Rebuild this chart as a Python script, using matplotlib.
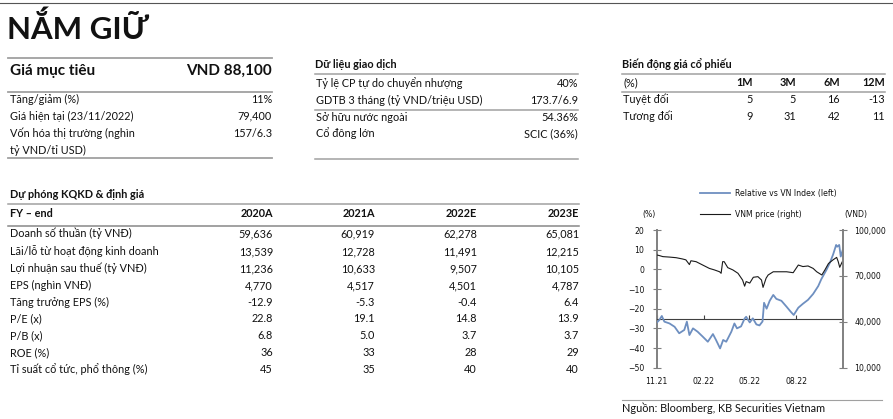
import matplotlib
matplotlib.use("Agg")
import matplotlib.pyplot as plt
import matplotlib.transforms as mtransforms
from matplotlib.lines import Line2D
from matplotlib.ticker import FuncFormatter
import pandas as pd

# ---------------- data ----------------
title = "NẮM GIỮ"
target_label = "Giá mục tiêu"
target_value = "VND 88,100"
summary_labels = ["Tăng/giảm (%)", "Giá hiện tại (23/11/2022)",
                  "Vốn hóa thị trường (nghìn\ntỷ VND/tỉ USD)"]
summary_values = ["11%", "79,400", "157/6.3"]

trading_title = "Dữ liệu giao dịch"
trading_labels = ["Tỷ lệ CP tự do chuyển nhượng", "GDTB 3 tháng (tỷ VND/triệu USD)",
                  "Sở hữu nước ngoài", "Cổ đông lớn"]
trading_values = ["40%", "173.7/6.9", "54.36%", "SCIC (36%)"]

perf_title = "Biến động giá cổ phiếu"
perf_unit = "(%)"
perf_periods = ["1M", "3M", "6M", "12M"]
perf_rows = ["Tuyệt đối", "Tương đối"]
perf_abs = [5, 5, 16, -13]
perf_rel = [9, 31, 42, 11]

fc_title = "Dự phóng KQKD & định giá"
fc_head = "FY – end"
fc_years = ["2020A", "2021A", "2022E", "2023E"]
fc_labels = ["Doanh số thuần (tỷ VNĐ)", "Lãi/lỗ từ hoạt động kinh doanh",
             "Lợi nhuận sau thuế (tỷ VNĐ)", "EPS (nghìn VNĐ)", "Tăng trưởng EPS (%)",
             "P/E (x)", "P/B (x)", "ROE (%)", "Tỉ suất cổ tức, phổ thông (%)"]
fc_2020 = ["59,636", "13,539", "11,236", "4,770", "-12.9", "22.8", "6.8", "36", "45"]
fc_2021 = ["60,919", "12,728", "10,633", "4,517", "-5.3", "19.1", "5.0", "33", "35"]
fc_2022 = ["62,278", "11,491", "9,507", "4,501", "-0.4", "14.8", "3.7", "28", "40"]
fc_2023 = ["65,081", "12,215", "10,105", "4,787", "6.4", "13.9", "3.7", "29", "40"]

source_text = "Nguồn: Bloomberg, KB Securities Vietnam"

# chart data (days since start date)
chart_start = "2021-11-23"
chart_end = "2022-11-23"
tick_dates = ["2021-11-23", "2022-02-23", "2022-05-23", "2022-08-23"]
tick_labels = ["11.21", "02.22", "05.22", "08.22"]
rel_label = "Relative vs VN Index (left)"
price_label = "VNM price (right)"
rel_days = [0, 5, 10, 15, 25, 35, 44, 54, 59, 64, 71, 80, 90, 100, 110, 116, 124, 130,
            136, 146, 152, 157, 165, 172, 175, 182, 188, 195, 201, 207, 210, 215, 221,
            228, 234, 244, 254, 262, 268, 277, 286, 296, 306, 316, 322, 332, 339, 345,
            351, 353, 357, 360, 365]
rel_values = [-27.1, -25.8, -23.7, -26.6, -27.5, -29.2, -32.5, -30.8, -26.6, -33.4, -30.0,
              -31.7, -34.2, -36.8, -32.9, -35.9, -40.2, -35.9, -36.8, -31.7, -27.5, -30.0,
              -29.0, -25.0, -24.1, -27.0, -24.9, -28.0, -28.5, -26.5, -17.0, -20.0, -16.0,
              -13.0, -15.0, -16.0, -19.0, -21.5, -23.2, -19.5, -17.5, -15.5, -12.5, -8.5,
              -5.0, -0.3, 3.5, 7.5, 12.4, 11.5, 12.4, 6.5, 10.8]
price_days = [0, 5, 12, 25, 38, 50, 57, 64, 67, 77, 90, 103, 113, 123, 126, 129, 132, 139,
              149, 159, 168, 172, 175, 182, 189, 198, 205, 208, 214, 218, 228, 241, 254,
              267, 277, 286, 296, 306, 313, 323, 329, 336, 345, 352, 355, 358, 363, 365]
price_values = [83700, 83300, 82600, 82300, 81900, 81100, 80500, 77400, 79900, 79300,
                77100, 74900, 73900, 72700, 71700, 79300, 79300, 75400, 73900, 71700,
                67300, 63300, 66300, 65300, 69100, 69500, 67300, 62500, 68500, 70600,
                72700, 72700, 72700, 72100, 77100, 76100, 76500, 74900, 72700, 70600,
                73900, 78100, 80500, 82100, 79400, 75600, 79300, 79400]

# ---------------- layout helpers ----------------
W, H = 893, 419
TXT = ["Lato", "Noto Sans", "DejaVu Sans"]
CHF = ["DejaVu Sans"]
INK = "#111111"
RULE = "#a0a0a0"
FS = 7.8
CFS = 5.6

fig = plt.figure(figsize=(W / 100, H / 100), dpi=100)


def fx(x):
    return x / W


def fy(y):
    return 1 - y / H


def hline(x0, x1, y, color=RULE, lw=1.1):
    fig.add_artist(Line2D([fx(x0), fx(x1)], [fy(y), fy(y)], color=color, lw=lw,
                          transform=fig.transFigure))


def txt(x, y, s, ha="left", size=FS, weight="normal", family=TXT, color=INK):
    fig.text(fx(x), fy(y), s, ha=ha, va="baseline", fontsize=size,
             fontweight=weight, family=family, color=color)


ROW = 17

# top rule + title
hline(0, 893, 3, color="#555555", lw=0.8)
txt(7, 39, title, size=22.5, weight="bold")

# target price block
hline(8, 272, 58, lw=1.3)
txt(10, 75, target_label, size=11, weight="bold")
txt(272, 75, target_value, ha="right", size=11, weight="bold")
hline(8, 272, 92, lw=1.3)
yb = 102.7
for lab, val in zip(summary_labels, summary_values):
    lines = lab.split("\n")
    txt(10, yb, lines[0])
    txt(272, yb, val, ha="right")
    for extra in lines[1:]:
        yb += ROW
        txt(10, yb, extra)
    yb += ROW
hline(8, 272, 158, lw=1.3)

# trading data block
txt(315, 68.3, trading_title, weight="bold")
hline(315, 578, 74)
ty = [86.7, 104, 120.7, 137.3]
for lab, val, y in zip(trading_labels, trading_values, ty):
    txt(316, y, lab)
    txt(578, y, val, ha="right")
hline(315, 578, 110)
hline(315, 578, 159)

# price performance block
txt(622, 68.3, perf_title, weight="bold")
hline(622, 885, 74)
pcols = [753, 796, 840, 885]
txt(623, 86, perf_unit)
for p, cx in zip(perf_periods, pcols):
    txt(cx, 86, p, ha="right", weight="bold")
hline(622, 885, 92)
for name, vals, y in zip(perf_rows, [perf_abs, perf_rel], [103.3, 120]):
    txt(623, y, name)
    for v, cx in zip(vals, pcols):
        txt(cx, y, f"{v}", ha="right")

# forecast table
txt(10, 198.3, fc_title, weight="bold")
hline(8, 579, 204)
fcols = [273, 375, 477, 579]
txt(10, 217.3, fc_head, weight="bold")
for yr, cx in zip(fc_years, fcols):
    txt(cx, 217.3, yr, ha="right", weight="bold")
hline(8, 579, 226, color="#888888")
frows = [237.3, 255, 272.3, 289, 305.7, 322.3, 339, 356, 373.3]
for i, (lab, y) in enumerate(zip(fc_labels, frows)):
    txt(10, y, lab)
    for col, cx in zip([fc_2020, fc_2021, fc_2022, fc_2023], fcols):
        txt(cx, y, col[i], ha="right")

# ---------------- chart ----------------
BLUE = "#6e8fc0"
SP = "#808080"
x0, x1, ytop, ybot = 656.7, 843.3, 230, 367.7
ax = fig.add_axes([fx(x0), fy(ybot), fx(x1) - fx(x0), fy(ytop) - fy(ybot)])
ax.patch.set_alpha(0)
start = pd.Timestamp(chart_start)
rel_x = start + pd.to_timedelta(rel_days, unit="D")
price_x = start + pd.to_timedelta(price_days, unit="D")

ax.plot(rel_x, rel_values, color=BLUE, lw=1.3, zorder=3)
ax.set_ylim(-50, 20)
ax.set_yticks(range(-50, 21, 10))
ax.set_xlim(start, pd.Timestamp(chart_end))
tick_x = pd.to_datetime(tick_dates)
ax.set_xticks(tick_x)
ax.tick_params(axis="x", direction="in", length=3, width=0.8, color="#404040",
               labelbottom=False)
ax.tick_params(axis="y", direction="inout", length=6, width=0.8, color=SP,
               labelsize=CFS, labelcolor=INK, pad=6)
for lab in ax.get_yticklabels():
    lab.set_family(CHF)
ax.spines["top"].set_visible(False)
ax.spines["right"].set_visible(False)
ax.spines["left"].set_color(SP)
ax.spines["left"].set_linewidth(1.4)
ax.spines["bottom"].set_position(("data", -25))
ax.spines["bottom"].set_color("#404040")
ax.spines["bottom"].set_linewidth(0.8)

ax2 = ax.twinx()
ax2.plot(price_x, price_values, color="#1a1a1a", lw=0.8, zorder=2)
ax2.set_ylim(10000, 100000)
ax2.set_yticks([10000, 40000, 70000, 100000])
ax2.yaxis.set_major_formatter(FuncFormatter(lambda v, p: f"{int(v):,}"))
ax2.tick_params(axis="y", direction="inout", length=6, width=0.8, color=SP,
                labelsize=CFS, labelcolor=INK, pad=5)
for lab in ax2.get_yticklabels():
    lab.set_family(CHF)
for s in ["top", "left", "bottom"]:
    ax2.spines[s].set_visible(False)
ax2.spines["right"].set_color(SP)
ax2.spines["right"].set_linewidth(1.4)

bt = mtransforms.blended_transform_factory(ax.transData, fig.transFigure)
for d, lab in zip(tick_x, tick_labels):
    ax.text(d, fy(384), lab, transform=bt, ha="center", va="baseline",
            fontsize=CFS, family=CHF, color=INK)

# legend & axis units
fig.add_artist(Line2D([fx(700), fx(730)], [fy(193.3)] * 2, color=BLUE, lw=1.3,
                      transform=fig.transFigure))
txt(735, 196, rel_label, size=CFS, family=CHF)
fig.add_artist(Line2D([fx(700), fx(730)], [fy(214.3)] * 2, color="#1a1a1a", lw=0.8,
                      transform=fig.transFigure))
txt(735, 217.3, price_label, size=CFS, family=CHF)
txt(649, 216.7, "(%)", ha="center", size=CFS, family=CHF)
txt(856, 217, "(VND)", ha="center", size=CFS, family=CHF)

hline(622, 882, 400, color="#a0a0a0", lw=0.8)
txt(622, 411.7, source_text)

fig.savefig("out.png", dpi=100)
